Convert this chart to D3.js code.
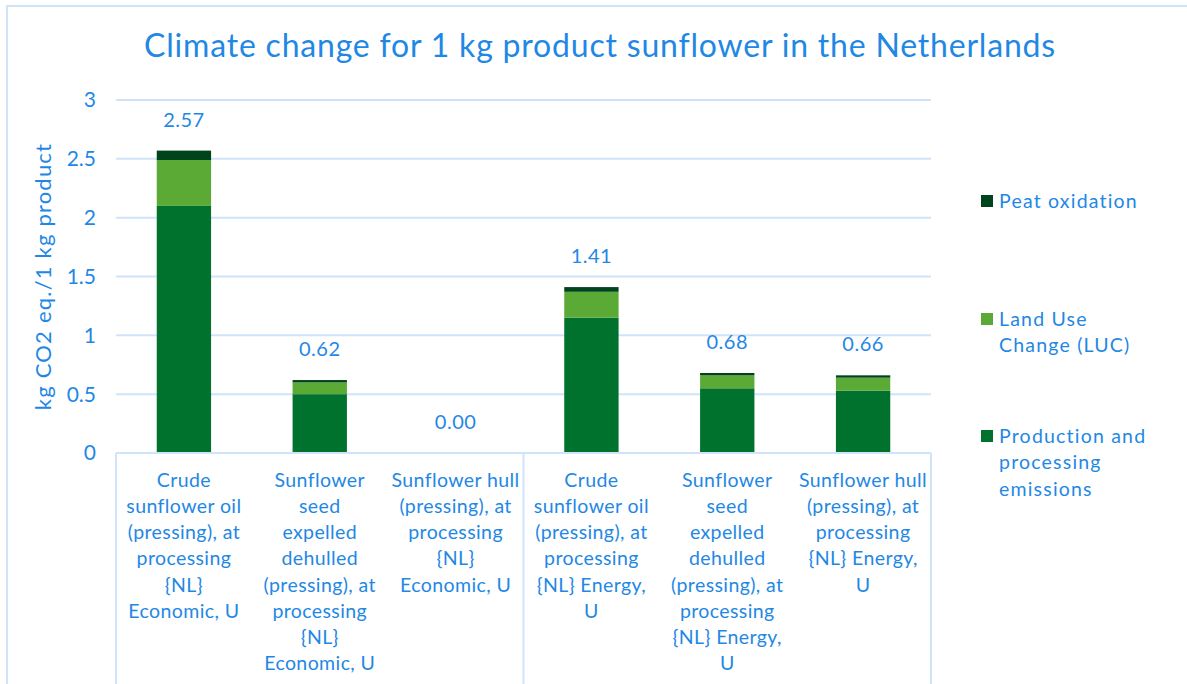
<!DOCTYPE html>
<html>
<head>
<meta charset="utf-8">
<script src="https://cdn.jsdelivr.net/npm/d3@7"></script>
<style>
  body { margin: 0; background: #fff; }
  text { font-family: Lato, "Noto Sans", sans-serif; fill: #1f88e5; }
</style>
</head>
<body>
<svg id="chart" width="1187" height="684"></svg>
<script>
// categories, one array of wrapped lines per bar
var categories = ["c1", "c2", "c3", "c4", "c5", "c6"];
var labelLines = [
  ["Crude", "sunflower oil", "(pressing), at", "processing", "{NL}", "Economic, U"],
  ["Sunflower", "seed", "expelled", "dehulled", "(pressing), at", "processing", "{NL}", "Economic, U"],
  ["Sunflower hull", "(pressing), at", "processing", "{NL}", "Economic, U"],
  ["Crude", "sunflower oil", "(pressing), at", "processing", "{NL} Energy,", "U"],
  ["Sunflower", "seed", "expelled", "dehulled", "(pressing), at", "processing", "{NL} Energy,", "U"],
  ["Sunflower hull", "(pressing), at", "processing", "{NL} Energy,", "U"]
];

// series values (kg CO2 eq.)
var production = [2.10, 0.50, 0, 1.15, 0.55, 0.53];
var landUse = [0.39, 0.10, 0, 0.22, 0.11, 0.11];
var peat = [0.08, 0.02, 0, 0.04, 0.02, 0.02];
var totals = ["2.57", "0.62", "0.00", "1.41", "0.68", "0.66"];

var seriesKeys = ["prod", "luc", "peat"];
var colors = { prod: "#00722e", luc: "#5aaa35", peat: "#00441b" };
var yTicks = [0, 0.5, 1, 1.5, 2, 2.5, 3];

var svg = d3.select("#chart");
var mLeft = 116, mRight = 931, mTop = 100, mBottom = 453;
var grid = "#cfe4f8";

// outer frame
svg.append("path")
  .attr("d", "M7,684 V6 H1187")
  .attr("fill", "none")
  .attr("stroke", grid)
  .attr("stroke-width", 2);

var table = categories.map(function (c, i) {
  return { cat: c, prod: production[i], luc: landUse[i], peat: peat[i] };
});

var x = d3.scaleBand()
  .domain(categories)
  .range([mLeft, mRight])
  .paddingInner(0.6)
  .paddingOuter(0.3);

var y = d3.scaleLinear()
  .domain([0, 3])
  .range([mBottom, mTop]);

// gridlines
svg.append("g")
  .selectAll("line")
  .data(yTicks)
  .enter()
  .append("line")
  .attr("x1", mLeft)
  .attr("x2", mRight)
  .attr("y1", function (d) { return y(d); })
  .attr("y2", function (d) { return y(d); })
  .attr("stroke", grid)
  .attr("stroke-width", 2);

// y tick labels
svg.append("g")
  .selectAll("text")
  .data(yTicks)
  .enter()
  .append("text")
  .attr("x", 96)
  .attr("y", function (d) { return y(d); })
  .attr("dy", "0.35em")
  .attr("text-anchor", "end")
  .style("font-size", "21px")
  .text(function (d) { return d; });

// stacked bars
var stack = d3.stack().keys(seriesKeys)(table);
svg.append("g")
  .selectAll("g")
  .data(stack)
  .enter()
  .append("g")
  .attr("fill", function (d) { return colors[d.key]; })
  .selectAll("rect")
  .data(function (d) { return d; })
  .enter()
  .append("rect")
  .attr("x", function (d) { return x(d.data.cat); })
  .attr("width", x.bandwidth())
  .attr("y", function (d) { return y(d[1]); })
  .attr("height", function (d) { return y(d[0]) - y(d[1]); });

// total labels
svg.append("g")
  .selectAll("text")
  .data(table)
  .enter()
  .append("text")
  .attr("x", function (d) { return x(d.cat) + x.bandwidth() / 2; })
  .attr("y", function (d) { return y(d.prod + d.luc + d.peat) - 31; })
  .attr("dy", "0.35em")
  .attr("text-anchor", "middle")
  .style("font-size", "20px")
  .style("letter-spacing", "0.5px")
  .text(function (d, i) { return totals[i]; });

// category axis with group separators
var sep = [mLeft, (x("c3") + x.bandwidth() + x("c4")) / 2, mRight];
svg.append("line")
  .attr("x1", mLeft).attr("x2", mRight)
  .attr("y1", mBottom).attr("y2", mBottom)
  .attr("stroke", grid).attr("stroke-width", 2);
svg.append("g")
  .selectAll("line")
  .data(sep)
  .enter()
  .append("line")
  .attr("x1", function (d) { return d; })
  .attr("x2", function (d) { return d; })
  .attr("y1", mBottom)
  .attr("y2", 684)
  .attr("stroke", grid)
  .attr("stroke-width", 2);

svg.append("g")
  .selectAll("text")
  .data(table)
  .enter()
  .append("text")
  .attr("text-anchor", "middle")
  .style("font-size", "19.5px")
  .style("letter-spacing", "0.4px")
  .each(function (d, i) {
    var t = d3.select(this);
    labelLines[i].forEach(function (line, j) {
      t.append("tspan")
        .attr("x", x(d.cat) + x.bandwidth() / 2)
        .attr("y", 480 + j * 26.2)
        .attr("dy", "0.35em")
        .text(line);
    });
  });

// y axis title
svg.append("text")
  .attr("transform", "translate(43," + (mTop + mBottom) / 2 + ") rotate(-90)")
  .attr("text-anchor", "middle")
  .attr("dy", "0.35em")
  .style("font-size", "22px")
  .style("letter-spacing", "1.2px")
  .text("kg CO2 eq./1 kg product");

// title
svg.append("text")
  .attr("x", 600)
  .attr("y", 46)
  .attr("dy", "0.35em")
  .attr("text-anchor", "middle")
  .style("font-size", "32px")
  .style("letter-spacing", "0.8px")
  .text("Climate change for 1 kg product sunflower in the Netherlands");

// legend
var legendItems = [
  { key: "peat", lines: ["Peat oxidation"], y: 201 },
  { key: "luc", lines: ["Land Use", "Change (LUC)"], y: 319 },
  { key: "prod", lines: ["Production and", "processing", "emissions"], y: 436 }
];
var leg = svg.append("g");
leg.selectAll("rect")
  .data(legendItems)
  .enter()
  .append("rect")
  .attr("x", 981)
  .attr("y", function (d) { return d.y - 6; })
  .attr("width", 12)
  .attr("height", 12)
  .attr("fill", function (d) { return colors[d.key]; });
leg.selectAll("text")
  .data(legendItems)
  .enter()
  .append("text")
  .style("font-size", "19.5px")
  .style("letter-spacing", "1.2px")
  .each(function (d) {
    var t = d3.select(this);
    d.lines.forEach(function (line, j) {
      t.append("tspan")
        .attr("x", 999)
        .attr("y", d.y + j * 26.5)
        .attr("dy", "0.35em")
        .text(line);
    });
  });
</script>
</body>
</html>
